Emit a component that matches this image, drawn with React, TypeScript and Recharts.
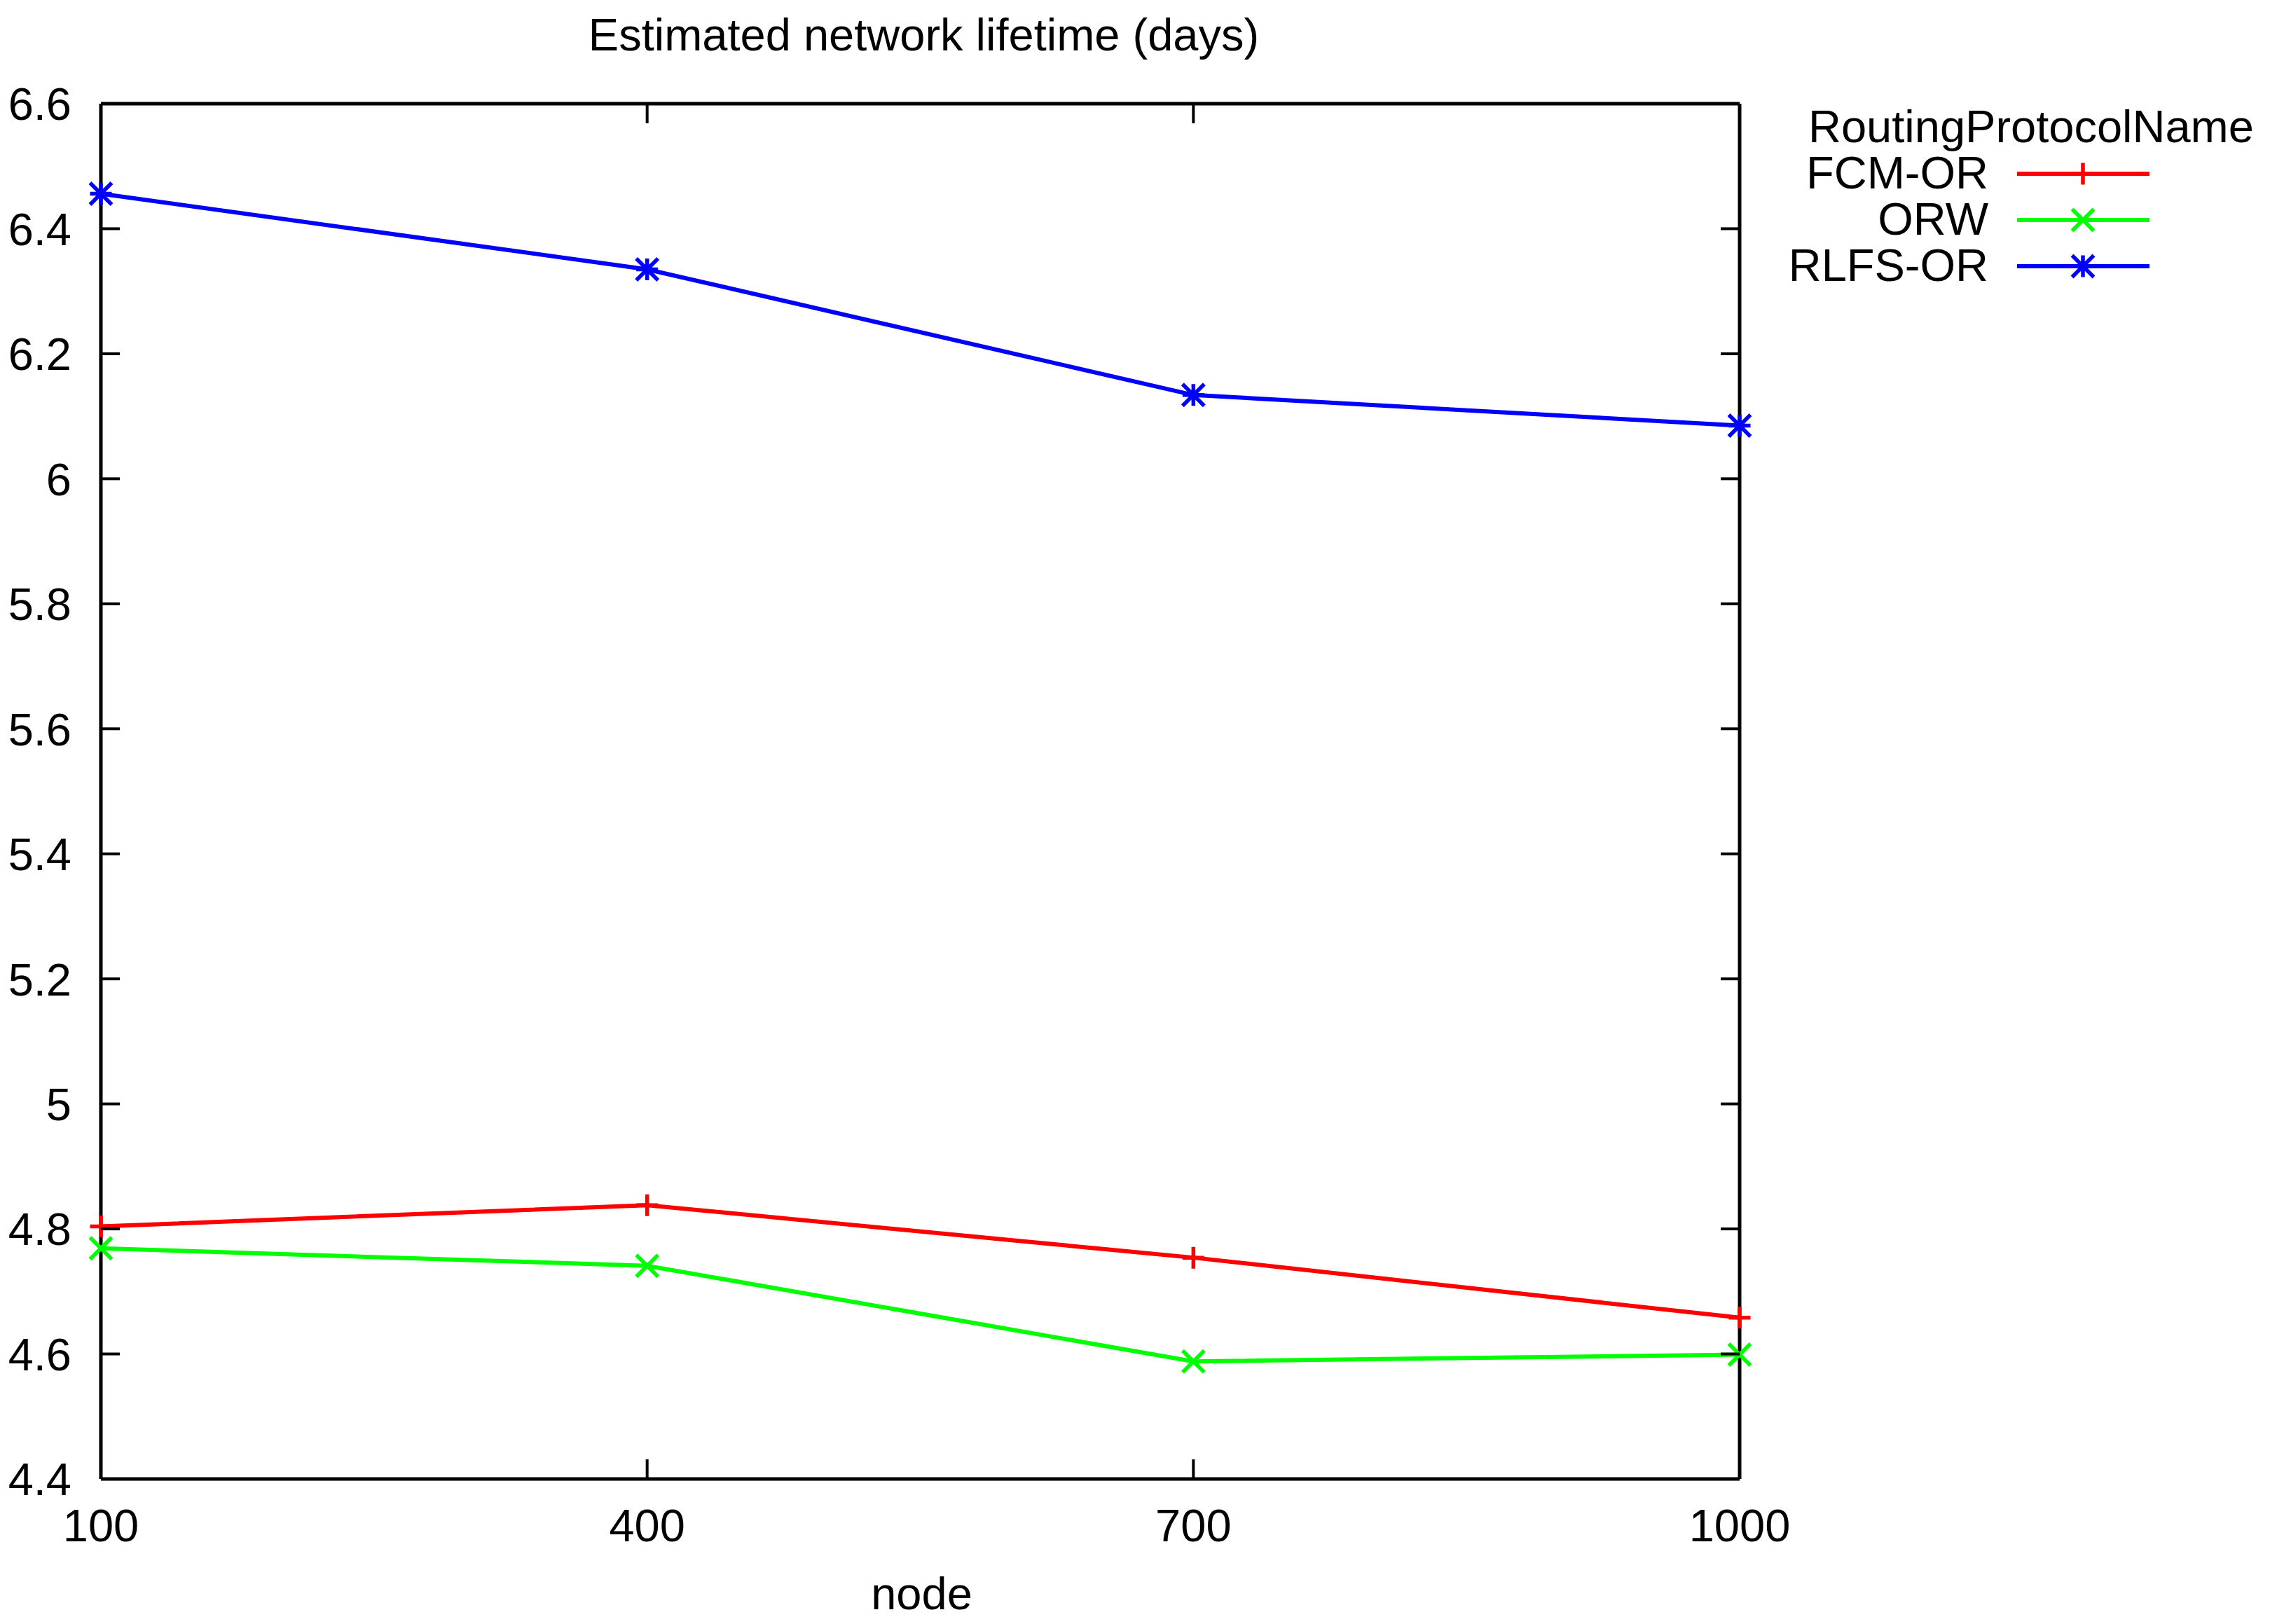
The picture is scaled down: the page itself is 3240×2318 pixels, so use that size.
import React from 'react';
import { LineChart, Line, XAxis, YAxis, Legend, Label } from 'recharts';

const nodes = [100, 400, 700, 1000];
const fcmOr = [4.804, 4.838, 4.754, 4.658];
const orw = [4.769, 4.741, 4.588, 4.599];
const rlfsOr = [6.456, 6.335, 6.134, 6.085];
const yTicks = [4.4, 4.6, 4.8, 5, 5.2, 5.4, 5.6, 5.8, 6, 6.2, 6.4, 6.6];

const data = nodes.map((n, i) => ({
  node: n,
  'FCM-OR': fcmOr[i],
  ORW: orw[i],
  'RLFS-OR': rlfsOr[i],
}));

const FONT = '"Liberation Sans", Arial, Helvetica, sans-serif';
const FS = 65;
const M = 15.5; // half size of the point markers

const markerPath = (shape: string, cx: number, cy: number) => {
  const plus = `M${cx - M},${cy}H${cx + M}M${cx},${cy - M}V${cy + M}`;
  const cross = `M${cx - M},${cy - M}L${cx + M},${cy + M}M${cx - M},${cy + M}L${cx + M},${cy - M}`;
  if (shape === 'plus') return plus;
  if (shape === 'cross') return cross;
  return plus + cross;
};

const series = [
  { key: 'FCM-OR', color: '#ff0000', shape: 'plus' },
  { key: 'ORW', color: '#00ff00', shape: 'cross' },
  { key: 'RLFS-OR', color: '#0000ff', shape: 'star' },
];

const makeDot = (shape: string, color: string) => (props: any) => {
  const { cx, cy, index } = props;
  if (cx == null || cy == null) return <g key={`d-${index}`} />;
  return (
    <path
      key={`d-${shape}-${index}`}
      d={markerPath(shape, cx, cy)}
      stroke={color}
      strokeWidth={5.5}
      fill="none"
    />
  );
};

const fmt = (v: number) => String(Number(v.toFixed(1)));

// ticks point inward, gnuplot style
const LeftTick = (props: any) => {
  const { x, y, payload } = props;
  return (
    <g>
      <line x1={x} y1={y} x2={x + 27} y2={y} stroke="#000" strokeWidth={4} />
      <text x={x - 42} y={y} dy="0.36em" textAnchor="end" fontFamily={FONT} fontSize={FS} fill="#000">
        {fmt(payload.value)}
      </text>
    </g>
  );
};

const RightTick = (props: any) => {
  const { x, y } = props;
  return <line x1={x} y1={y} x2={x - 27} y2={y} stroke="#000" strokeWidth={4} />;
};

const BottomTick = (props: any) => {
  const { x, y, payload } = props;
  return (
    <g>
      <line x1={x} y1={y} x2={x} y2={y - 28} stroke="#000" strokeWidth={4} />
      <text x={x} y={y + 89} textAnchor="middle" fontFamily={FONT} fontSize={FS} fill="#000">
        {payload.value}
      </text>
    </g>
  );
};

const TopTick = (props: any) => {
  const { x, y } = props;
  return <line x1={x} y1={y} x2={x} y2={y + 28} stroke="#000" strokeWidth={4} />;
};

const renderLegend = () => (
  <svg width={700} height={300} style={{ display: 'block' }}>
    <g transform="translate(-2540,-130)" fontFamily={FONT} fontSize={FS} fill="#000">
      <text x={2581} y={203}>RoutingProtocolName</text>
      {series.map((s, i) => {
        const y = 248 + i * 66;
        return (
          <g key={s.key}>
            <text x={2838} y={y + 21} textAnchor="end">
              {s.key}
            </text>
            <line x1={2879} y1={y} x2={3068} y2={y} stroke={s.color} strokeWidth={6} />
            <path d={markerPath(s.shape, 2973, y)} stroke={s.color} strokeWidth={5.5} fill="none" />
          </g>
        );
      })}
    </g>
  </svg>
);

export default function App() {
  return (
    <div style={{ position: 'absolute', left: 0, top: 0, width: 3240, height: 2318, background: '#fff' }}>
      <LineChart
        width={3240}
        height={2318}
        data={data}
        margin={{ top: 138, right: 747, bottom: 100, left: 44 }}
      >
        <XAxis
          dataKey="node"
          type="number"
          domain={[100, 1000]}
          ticks={nodes}
          height={107}
          tickSize={0}
          tickMargin={0}
          tickLine={false}
          tick={<BottomTick />}
          axisLine={{ stroke: '#000', strokeWidth: 5 }}
          interval={0}
        >
          <Label
            content={(p: any) => {
              const vb = p.viewBox || {};
              return (
                <text x={vb.x + vb.width / 2 + 2} y={vb.y + 186} textAnchor="middle" fontFamily={FONT} fontSize={FS} fill="#000">
                  node
                </text>
              );
            }}
          />
        </XAxis>
        <XAxis
          xAxisId="top"
          orientation="top"
          dataKey="node"
          type="number"
          domain={[100, 1000]}
          ticks={nodes}
          height={10}
          tickSize={0}
          tickMargin={0}
          tickLine={false}
          tick={<TopTick />}
          axisLine={{ stroke: '#000', strokeWidth: 5 }}
          interval={0}
        >
          <Label
            content={(p: any) => {
              const vb = p.viewBox || {};
              return (
                <text x={vb.x + vb.width / 2 + 5} y={72} textAnchor="middle" fontFamily={FONT} fontSize={FS} fill="#000">
                  Estimated network lifetime (days)
                </text>
              );
            }}
          />
        </XAxis>
        <YAxis
          type="number"
          domain={[4.4, 6.6]}
          ticks={yTicks}
          width={100}
          tickSize={0}
          tickMargin={0}
          tickLine={false}
          tick={<LeftTick />}
          axisLine={{ stroke: '#000', strokeWidth: 5 }}
          interval={0}
          allowDataOverflow
        />
        <YAxis
          yAxisId="right"
          orientation="right"
          type="number"
          domain={[4.4, 6.6]}
          ticks={yTicks}
          width={10}
          tickSize={0}
          tickMargin={0}
          tickLine={false}
          tick={<RightTick />}
          axisLine={{ stroke: '#000', strokeWidth: 5 }}
          interval={0}
          allowDataOverflow
        />
        <Legend
          layout="horizontal"
          verticalAlign="middle"
          align="center"
          content={renderLegend}
          wrapperStyle={{ position: 'absolute', left: 2540, top: 130, width: 700, height: 300 }}
        />
        {series.map((s) => (
          <Line
            key={s.key}
            dataKey={s.key}
            stroke={s.color}
            strokeWidth={6}
            dot={makeDot(s.shape, s.color)}
            activeDot={false}
            isAnimationActive={false}
          />
        ))}
      </LineChart>
    </div>
  );
}
